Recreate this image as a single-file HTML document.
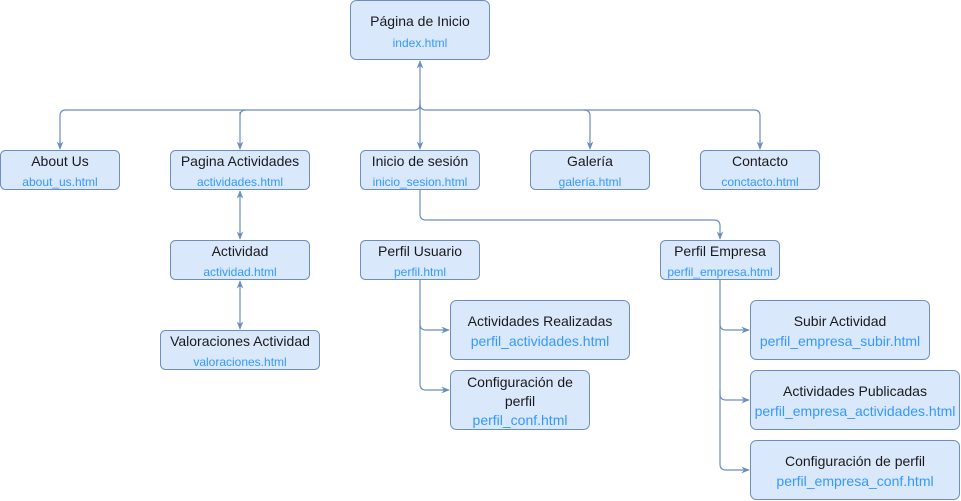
<!DOCTYPE html>
<html><head><meta charset="utf-8"><style>html,body{margin:0;padding:0;background:#fff}svg{display:block}</style></head><body>
<svg width="961" height="501" viewBox="0 0 961 501" xmlns="http://www.w3.org/2000/svg" font-family="Liberation Sans, Arial, sans-serif">
<defs><marker id="a" viewBox="0 0 10 10" refX="9" refY="5" markerWidth="7" markerHeight="7" orient="auto-start-reverse"><path d="M0,1 L10,5 L0,9 L3,5 z" fill="#6c8ebf"/></marker></defs>
<g fill="none" stroke="#6c8ebf" stroke-width="1.2">
<path d="M420,110 V61" marker-end="url(#a)"/>
<path d="M420,100 V149" marker-end="url(#a)"/>
<path d="M60,149 V116 Q60,110 66,110 H414 Q420,110 420,104 Q420,110 426,110 H754 Q760,110 760,116 V149" />
<path d="M60,140 V149" marker-end="url(#a)"/>
<path d="M240,116 Q240,110 246,110" /><path d="M240,112 V149" marker-end="url(#a)"/>
<path d="M584,110 Q590,110 590,116 V149" marker-end="url(#a)"/>
<path d="M760,140 V149" marker-end="url(#a)"/>
<path d="M240,191 V239" marker-start="url(#a)" marker-end="url(#a)"/>
<path d="M240,281 V329" marker-start="url(#a)" marker-end="url(#a)"/>
<path d="M420,190 V214 Q420,220 426,220 H714 Q720,220 720,226 V239" marker-end="url(#a)"/>
<path d="M420,280 V324 Q420,330 426,330 H449" marker-end="url(#a)"/>
<path d="M420,320 V384 Q420,390 426,390 H449" marker-end="url(#a)"/>
<path d="M720,280 V324 Q720,330 726,330 H749" marker-end="url(#a)"/>
<path d="M720,320 V394 Q720,400 726,400 H749" marker-end="url(#a)"/>
<path d="M720,390 V464 Q720,470 726,470 H749" marker-end="url(#a)"/>
</g>
<g fill="#dae8fc" stroke="#6c8ebf" stroke-width="1">
<rect x="350.5" y="0.5" width="139" height="59" rx="6"/>
<rect x="0.5" y="150.5" width="119" height="39" rx="5"/>
<rect x="170.5" y="150.5" width="139" height="39" rx="5"/>
<rect x="360.5" y="150.5" width="119" height="39" rx="5"/>
<rect x="530.5" y="150.5" width="119" height="39" rx="5"/>
<rect x="700.5" y="150.5" width="119" height="39" rx="5"/>
<rect x="170.5" y="240.5" width="139" height="39" rx="5"/>
<rect x="160.5" y="330.5" width="159" height="39" rx="5"/>
<rect x="360.5" y="240.5" width="119" height="39" rx="5"/>
<rect x="660.5" y="240.5" width="119" height="39" rx="5"/>
<rect x="450.5" y="300.5" width="179" height="59" rx="6"/>
<rect x="450.5" y="370.5" width="139" height="59" rx="6"/>
<rect x="750.5" y="300.5" width="179" height="59" rx="6"/>
<rect x="750.5" y="370.5" width="209" height="59" rx="6"/>
<rect x="750.5" y="440.5" width="209" height="59" rx="6"/>
</g>
<g text-anchor="middle" font-size="14" fill="#1a1a1a">
<text x="420" y="26">Página de Inicio</text>
<text x="60" y="166">About Us</text>
<text x="240" y="166">Pagina Actividades</text>
<text x="420" y="166">Inicio de sesión</text>
<text x="590" y="166">Galería</text>
<text x="760" y="166">Contacto</text>
<text x="240" y="256">Actividad</text>
<text x="240" y="346">Valoraciones Actividad</text>
<text x="420" y="256">Perfil Usuario</text>
<text x="720" y="256">Perfil Empresa</text>
<text x="540" y="326">Actividades Realizadas</text>
<text x="520" y="387">Configuración de</text>
<text x="520" y="406">perfil</text>
<text x="840" y="326">Subir Actividad</text>
<text x="855" y="396">Actividades Publicadas</text>
<text x="855" y="466">Configuración de perfil</text>
</g>
<g text-anchor="middle" font-size="12" fill="#3399ff">
<text x="420" y="47">index.html</text>
<text x="60" y="186">about_us.html</text>
<text x="240" y="186">actividades.html</text>
<text x="420" y="186">inicio_sesion.html</text>
<text x="590" y="186">galería.html</text>
<text x="760" y="186">conctacto.html</text>
<text x="240" y="276">actividad.html</text>
<text x="240" y="366">valoraciones.html</text>
<text x="420" y="276">perfil.html</text>
<text x="720" y="276">perfil_empresa.html</text>
</g>
<g text-anchor="middle" font-size="14" fill="#3399ff">
<text x="540" y="346">perfil_actividades.html</text>
<text x="520" y="425">perfil_conf.html</text>
<text x="840" y="346">perfil_empresa_subir.html</text>
<text x="855" y="416">perfil_empresa_actividades.html</text>
<text x="855" y="486">perfil_empresa_conf.html</text>
</g>
</svg>
</body></html>
